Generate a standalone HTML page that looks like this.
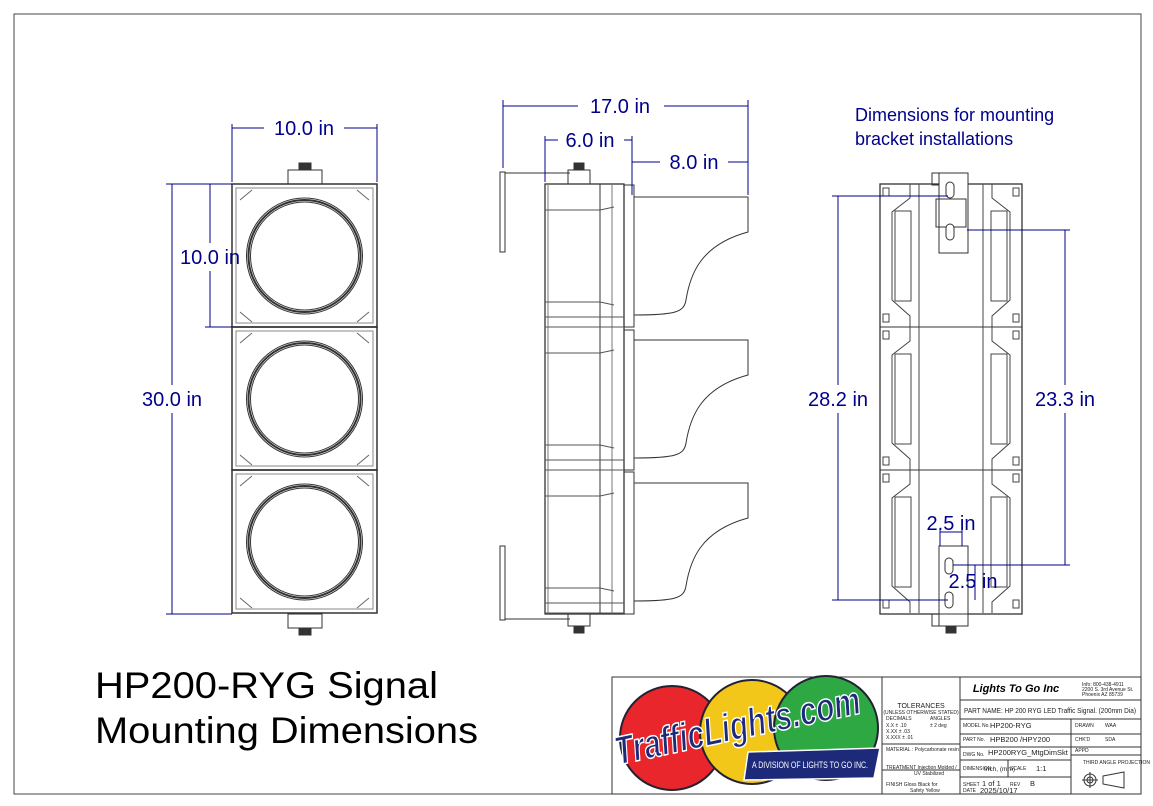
<!DOCTYPE html>
<html><head><meta charset="utf-8"><style>
body{margin:0;background:#fff;}
svg{display:block;font-family:"Liberation Sans",Arial,sans-serif;}
</style></head><body>
<svg width="1153" height="806" viewBox="0 0 1153 806" xmlns="http://www.w3.org/2000/svg">
<rect x="14" y="14" width="1127" height="780" fill="none" stroke="#444" stroke-width="1"/>

<!-- FRONT VIEW -->
<g stroke="#333" fill="none" stroke-width="1">
  <rect x="288" y="170" width="34" height="14"/><rect x="299" y="163" width="12" height="7" fill="#333"/>
  <rect x="288" y="614" width="34" height="14"/><rect x="299" y="628" width="12" height="7" fill="#333"/>
  <g id="sec">
    <rect x="232" y="184" width="145" height="143" stroke-width="1.5"/>
    <rect x="236" y="188" width="137" height="135" stroke="#888"/>
    <circle cx="304.5" cy="256" r="58" stroke-width="1"/>
    <circle cx="304.5" cy="256" r="56" stroke-width="2"/>
    <circle cx="304.5" cy="256" r="54"/>
    <path d="M240 200 L252 190 M240 312 L252 322 M369 200 L357 190 M369 312 L357 322" stroke="#666"/>
  </g>
  <use href="#sec" y="143"/><use href="#sec" y="286"/>
</g>
<g stroke="#00008b" fill="none" stroke-width="1">
  <line x1="232" y1="124" x2="232" y2="182"/><line x1="377" y1="124" x2="377" y2="182"/>
  <line x1="232" y1="128" x2="264" y2="128"/><line x1="344" y1="128" x2="377" y2="128"/>
  <line x1="166" y1="184" x2="232" y2="184"/><line x1="166" y1="614" x2="232" y2="614"/>
  <line x1="172" y1="184" x2="172" y2="385"/><line x1="172" y1="413" x2="172" y2="614"/>
  <line x1="205" y1="327" x2="232" y2="327"/>
  <line x1="210" y1="184" x2="210" y2="243"/><line x1="210" y1="271" x2="210" y2="327"/>
</g>
<g fill="#00008b" font-size="20">
  <text x="304" y="135" text-anchor="middle">10.0 in</text>
  <text x="172" y="406" text-anchor="middle">30.0 in</text>
  <text x="210" y="264" text-anchor="middle">10.0 in</text>
</g>

<!-- SIDE VIEW -->
<g stroke="#333" fill="none" stroke-width="1">
  <rect x="500" y="172" width="5" height="80"/><rect x="500" y="546" width="5" height="74"/>
  <line x1="505" y1="173" x2="570" y2="173"/><line x1="505" y1="619" x2="570" y2="619"/>
  <rect x="568" y="170" width="22" height="14"/><rect x="574" y="163" width="10" height="7" fill="#333"/>
  <rect x="568" y="614" width="22" height="12"/><rect x="574" y="626" width="10" height="7" fill="#333"/>
  <rect x="545" y="184" width="79" height="430" stroke-width="1.3"/>
  <line x1="548" y1="184" x2="548" y2="614" stroke="#777"/>
  <line x1="600" y1="184" x2="600" y2="614"/>
  <line x1="612" y1="184" x2="612" y2="614" stroke="#777"/>
  <rect x="624" y="185" width="10" height="142"/><rect x="624" y="330" width="10" height="140"/><rect x="624" y="472" width="10" height="142"/>
  <g id="band" stroke="#555">
    <line x1="545" y1="210" x2="600" y2="210"/><path d="M600 210 L614 207"/>
    <line x1="545" y1="302" x2="600" y2="302"/><path d="M600 302 L614 305"/>
    <line x1="545" y1="317" x2="624" y2="317"/><line x1="545" y1="327" x2="624" y2="327"/>
  </g>
  <use href="#band" y="143"/><use href="#band" y="286"/>
  <g id="visor">
    <path d="M634 197 L748 197 L748 232 C700 245 690 275 686 300 C684 312 676 315 634 315"/>
  </g>
  <use href="#visor" y="143"/><use href="#visor" y="286"/>
</g>
<g stroke="#00008b" fill="none" stroke-width="1">
  <line x1="503" y1="100" x2="503" y2="168"/><line x1="748" y1="100" x2="748" y2="195"/>
  <line x1="503" y1="106" x2="578" y2="106"/><line x1="664" y1="106" x2="748" y2="106"/>
  <line x1="545" y1="136" x2="545" y2="182"/><line x1="632" y1="136" x2="632" y2="195"/>
  <line x1="545" y1="140" x2="558" y2="140"/><line x1="624" y1="140" x2="632" y2="140"/>
  <line x1="632" y1="162" x2="660" y2="162"/><line x1="728" y1="162" x2="748" y2="162"/>
</g>
<g fill="#00008b" font-size="20">
  <text x="620" y="113" text-anchor="middle">17.0 in</text>
  <text x="590" y="147" text-anchor="middle">6.0 in</text>
  <text x="694" y="169" text-anchor="middle">8.0 in</text>
</g>

<!-- REAR VIEW -->
<g stroke="#333" fill="none" stroke-width="1">
  <rect x="880" y="184" width="142" height="430" stroke-width="1.3"/>
  <line x1="880" y1="327" x2="1022" y2="327"/><line x1="880" y1="470" x2="1022" y2="470"/>
  <g id="rsec" stroke="#444">
    <path d="M910 184 L910 198 L892 212 L892 300 L910 316 L910 327"/>
    <path d="M992 184 L992 198 L1010 212 L1010 300 L992 316 L992 327"/>
    <rect x="895" y="211" width="16" height="90"/><rect x="991" y="211" width="16" height="90"/>
    <line x1="919" y1="184" x2="919" y2="327"/><line x1="983" y1="184" x2="983" y2="327"/>
    <rect x="883" y="188" width="6" height="8"/><rect x="1013" y="188" width="6" height="8"/>
    <rect x="883" y="314" width="6" height="8"/><rect x="1013" y="314" width="6" height="8"/>
  </g>
  <use href="#rsec" y="143"/><use href="#rsec" y="286"/>
  <rect x="932" y="173" width="36" height="12"/>
  <rect x="939" y="173" width="29" height="80" fill="#fff"/>
  <rect x="936" y="199" width="30" height="28"/>
  <rect x="946" y="182" width="8" height="16" rx="4" fill="#fff"/>
  <rect x="946" y="224" width="8" height="16" rx="4" fill="#fff"/>
  <rect x="939" y="546" width="29" height="80" fill="#fff"/>
  <rect x="945" y="558" width="8" height="16" rx="4"/>
  <rect x="945" y="592" width="8" height="16" rx="4"/>
  <rect x="932" y="614" width="36" height="12"/><rect x="946" y="626" width="10" height="7" fill="#333"/>
</g>
<g stroke="#00008b" fill="none" stroke-width="1">
  <line x1="832" y1="196" x2="948" y2="196"/><line x1="832" y1="600" x2="948" y2="600"/>
  <line x1="838" y1="196" x2="838" y2="385"/><line x1="838" y1="413" x2="838" y2="600"/>
  <line x1="967" y1="230" x2="1070" y2="230"/><line x1="953" y1="565" x2="1070" y2="565"/>
  <line x1="1065" y1="230" x2="1065" y2="385"/><line x1="1065" y1="413" x2="1065" y2="565"/>
  <line x1="940" y1="532" x2="962" y2="532"/><line x1="940" y1="528" x2="940" y2="546"/><line x1="962" y1="528" x2="962" y2="546"/>
  <line x1="975" y1="565" x2="975" y2="600"/>
</g>
<g fill="#00008b" font-size="20">
  <text x="838" y="406" text-anchor="middle">28.2 in</text>
  <text x="1065" y="406" text-anchor="middle">23.3 in</text>
  <text x="951" y="530" text-anchor="middle">2.5 in</text>
  <text x="973" y="588" text-anchor="middle">2.5 in</text>
</g>
<g fill="#00008b" font-size="18">
  <text x="855" y="121">Dimensions for mounting</text>
  <text x="855" y="145">bracket  installations</text>
</g>

<text x="95" y="698" font-size="37" fill="#000" textLength="343" lengthAdjust="spacingAndGlyphs">HP200-RYG Signal</text>
<text x="95" y="743" font-size="37" fill="#000" textLength="383" lengthAdjust="spacingAndGlyphs">Mounting Dimensions</text>

<!-- TITLE BLOCK -->
<g stroke="#333" fill="none" stroke-width="1">
  <rect x="612" y="677" width="529" height="117"/>
  <line x1="882" y1="677" x2="882" y2="794"/>
  <line x1="960" y1="677" x2="960" y2="794"/>
  <line x1="882" y1="744" x2="960" y2="744"/><line x1="882" y1="770" x2="960" y2="770"/>
  <line x1="960" y1="700" x2="1141" y2="700"/>
  <line x1="960" y1="719" x2="1141" y2="719"/>
  <line x1="960" y1="734" x2="1141" y2="734"/>
  <line x1="960" y1="747" x2="1141" y2="747"/>
  <line x1="960" y1="760" x2="1071" y2="760"/>
  <line x1="960" y1="777" x2="1071" y2="777"/>
  <line x1="1071" y1="719" x2="1071" y2="794"/>
  <line x1="1071" y1="755" x2="1141" y2="755"/>
  <line x1="1008" y1="760" x2="1008" y2="777"/>
</g>
<g>
  <circle cx="672" cy="738" r="52" fill="#e8262b" stroke="#223" stroke-width="2"/>
  <circle cx="752" cy="732" r="52" fill="#f3c71a" stroke="#223" stroke-width="2"/>
  <circle cx="826" cy="728" r="52" fill="#2ea843" stroke="#223" stroke-width="2"/>
  <polygon points="748,752 880,748 874,778 744,780" fill="#1d2a7a" stroke="#fff" stroke-width="1.5"/>
  <text x="810" y="768" font-size="9" fill="#fff" text-anchor="middle" textLength="116" lengthAdjust="spacingAndGlyphs">A DIVISION OF LIGHTS TO GO INC.</text>
  <text x="618" y="765" font-size="40" font-weight="bold" font-style="italic" fill="#1d2a7a" stroke="#fff" stroke-width="1.5" textLength="250" lengthAdjust="spacingAndGlyphs" transform="rotate(-12 618 765)">TrafficLights.com</text>
</g>
<g font-size="5" fill="#222">
  <text x="921" y="708" text-anchor="middle" font-size="7">TOLERANCES</text>
  <text x="921" y="714" text-anchor="middle">(UNLESS OTHERWISE STATED)</text>
  <text x="886" y="720">DECIMALS</text><text x="930" y="720">ANGLES</text>
  <text x="886" y="727">X.X    ± .10</text><text x="930" y="727">± 2 deg</text>
  <text x="886" y="733">X.XX   ± .03</text><text x="886" y="739">X.XXX  ± .01</text>
  <text x="886" y="751">MATERIAL :  Polycarbonate resin</text>
  <text x="886" y="769">TREATMENT  Injection Molded /</text><text x="914" y="775">UV Stabilized</text>
  <text x="886" y="786">FINISH   Gloss Black for</text><text x="910" y="792">Safety Yellow</text>
  <text x="1082" y="686">Info: 800-438-4911</text><text x="1082" y="691">2200 S. 3rd Avenue St.</text><text x="1082" y="696">Phoenix AZ 85739</text>
  <text x="963" y="727">MODEL No.</text><text x="963" y="741">PART No.</text><text x="963" y="756">DWG No.</text>
  <text x="963" y="770">DIMENSION</text><text x="963" y="786">SHEET</text><text x="963" y="792">DATE</text>
  <text x="1010" y="770">SCALE</text><text x="1010" y="786">REV</text>
  <text x="1075" y="727">DRAWN</text><text x="1105" y="727">WAA</text>
  <text x="1075" y="741">CHK'D</text><text x="1105" y="741">SDA</text>
  <text x="1075" y="752">APPD</text>
  <text x="1083" y="764">THIRD ANGLE PROJECTION</text>
</g>
<g font-size="7.5" fill="#222">
  <text x="1016" y="692" text-anchor="middle" font-size="11" font-weight="bold" font-style="italic" fill="#000">Lights To Go Inc</text>
  <text x="964" y="713" textLength="172" lengthAdjust="spacingAndGlyphs">PART NAME:  HP 200 RYG LED Traffic Signal. (200mm Dia)</text>
  <text x="990" y="728">HP200-RYG</text>
  <text x="990" y="742">HPB200 /HPY200</text>
  <text x="988" y="755">HP200RYG_MtgDimSkt</text>
  <text x="984" y="771" font-size="6.5">Inch, (mm)</text><text x="1036" y="771">1:1</text>
  <text x="982" y="786">1 of 1</text><text x="1030" y="786">B</text>
  <text x="980" y="793">2025/10/17</text>
</g>
<g stroke="#333" fill="none">
  <circle cx="1090" cy="780" r="6"/><circle cx="1090" cy="780" r="3"/>
  <line x1="1082" y1="780" x2="1098" y2="780"/><line x1="1090" y1="772" x2="1090" y2="788"/>
  <path d="M1103 776 L1124 772 L1124 788 L1103 784 Z"/>
</g>
</svg>
</body></html>
